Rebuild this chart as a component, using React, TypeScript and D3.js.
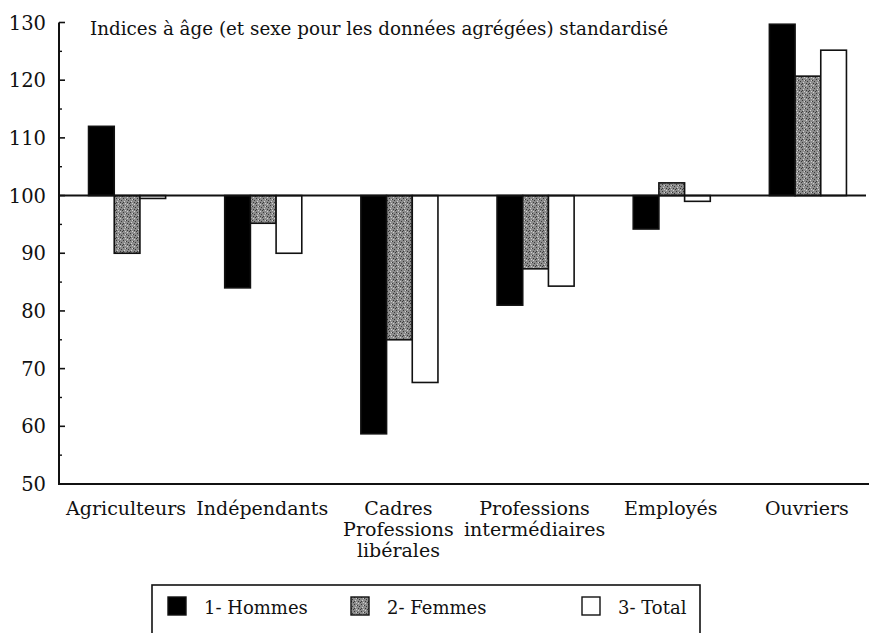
import React from "react";
import * as d3 from "d3";

const categories = [
  ["Agriculteurs"],
  ["Indépendants"],
  ["Cadres", "Professions", "libérales"],
  ["Professions", "intermédiaires"],
  ["Employés"],
  ["Ouvriers"],
];
const seriesNames = ["1- Hommes", "2- Femmes", "3- Total"];
const hommes = [112, 84, 58.7, 81, 94.2, 129.7];
const femmes = [90, 95.2, 75, 87.3, 102.2, 120.7];
const total = [99.5, 90, 67.6, 84.3, 99, 125.2];
const majorTicks = [50, 60, 70, 80, 90, 100, 110, 120, 130];
const minorTicks = [55, 65, 75, 85, 95, 105, 115, 125];
const title = "Indices à âge (et sexe pour les données agrégées) standardisé";

const W = 869;
const H = 633;
const FONT = "'DejaVu Serif', 'Liberation Serif', 'Noto Serif', Tinos, FreeSerif, serif";

export default function App() {
  const axisX = 59;
  const y = d3.scaleLinear().domain([50, 130]).range([484, 22.5]);
  const x0 = d3
    .scaleBand<number>()
    .domain(d3.range(categories.length))
    .range([axisX, 876])
    .paddingInner(0.434)
    .paddingOuter(0.217);
  const x1 = d3
    .scaleBand<number>()
    .domain([0, 1, 2])
    .range([0, x0.bandwidth()]);
  const series = [hommes, femmes, total];
  const fills = ["#000", "url(#stipple)", "#fff"];

  const dots: [number, number][] = [
    [1, 1], [4, 2], [2, 4], [5, 5], [0, 3], [3, 0], [6, 3], [1, 6], [4, 6], [6, 0],
  ];
  const txt = { fontFamily: FONT, fill: "#111" } as React.CSSProperties;

  return (
    <svg
      width={W}
      height={H}
      style={{ position: "absolute", left: 0, top: 0, background: "#fff" }}
    >
      <defs>
        <pattern id="stipple" width="7" height="7" patternUnits="userSpaceOnUse">
          <rect width="7" height="7" fill="#8c8c8c" />
          {dots.map(([a, b], i) => (
            <rect key={i} x={a} y={b} width="1" height="1" fill={i % 3 === 0 ? "#d0d0d0" : "#3a3a3a"} />
          ))}
        </pattern>
      </defs>
      <rect width={W} height={H} fill="#fff" />

      {/* title */}
      <text x={90} y={35} textLength={578} lengthAdjust="spacingAndGlyphs" style={{ ...txt, fontSize: 19 }}>
        {title}
      </text>

      {/* bars */}
      {series.map((vals, s) =>
        vals.map((v, i) => {
          const bx = (x0(i) as number) + (x1(s) as number);
          const y0 = y(100);
          const yv = y(v);
          return (
            <rect
              key={`${s}-${i}`}
              x={bx}
              y={Math.min(y0, yv)}
              width={x1.bandwidth()}
              height={Math.abs(yv - y0)}
              fill={fills[s]}
              stroke="#111"
              strokeWidth={1.6}
            />
          );
        })
      )}

      {/* baseline at 100 */}
      <line x1={axisX} x2={866} y1={y(100)} y2={y(100)} stroke="#111" strokeWidth={2} />

      {/* axes */}
      <line x1={axisX} x2={axisX} y1={y(130)} y2={y(50)} stroke="#111" strokeWidth={2} />
      <line x1={axisX - 1} x2={869} y1={y(50)} y2={y(50)} stroke="#111" strokeWidth={2} />
      {majorTicks.map((t) => (
        <g key={t}>
          {t !== 50 && (
            <line x1={axisX} x2={axisX + 6} y1={y(t)} y2={y(t)} stroke="#111" strokeWidth={1.6} />
          )}
          <text
            x={46}
            y={y(t) + 7}
            textAnchor="end"
            style={{ ...txt, fontSize: 19.5 }}
          >
            {t}
          </text>
        </g>
      ))}
      {minorTicks.map((t) => (
        <line key={t} x1={axisX} x2={axisX + 3} y1={y(t)} y2={y(t)} stroke="#111" strokeWidth={1.4} />
      ))}

      {/* category labels */}
      {categories.map((lines, i) => {
        const cx = (x0(i) as number) + x0.bandwidth() / 2;
        return lines.map((ln, k) => (
          <text
            key={`${i}-${k}`}
            x={cx - 1}
            y={515 + k * 21}
            textAnchor="middle"
            style={{ ...txt, fontSize: 19 }}
          >
            {ln}
          </text>
        ));
      })}

      {/* legend */}
      <rect x={152} y={585} width={548} height={70} fill="none" stroke="#111" strokeWidth={1.6} />
      {seriesNames.map((name, s) => {
        const lx = [168, 351, 582][s];
        return (
          <g key={name}>
            <rect
              x={lx}
              y={597}
              width={18}
              height={18}
              fill={fills[s]}
              stroke="#111"
              strokeWidth={1.4}
            />
            <text x={lx + 36} y={614} style={{ ...txt, fontSize: 18 }}>
              {name}
            </text>
          </g>
        );
      })}
    </svg>
  );
}
